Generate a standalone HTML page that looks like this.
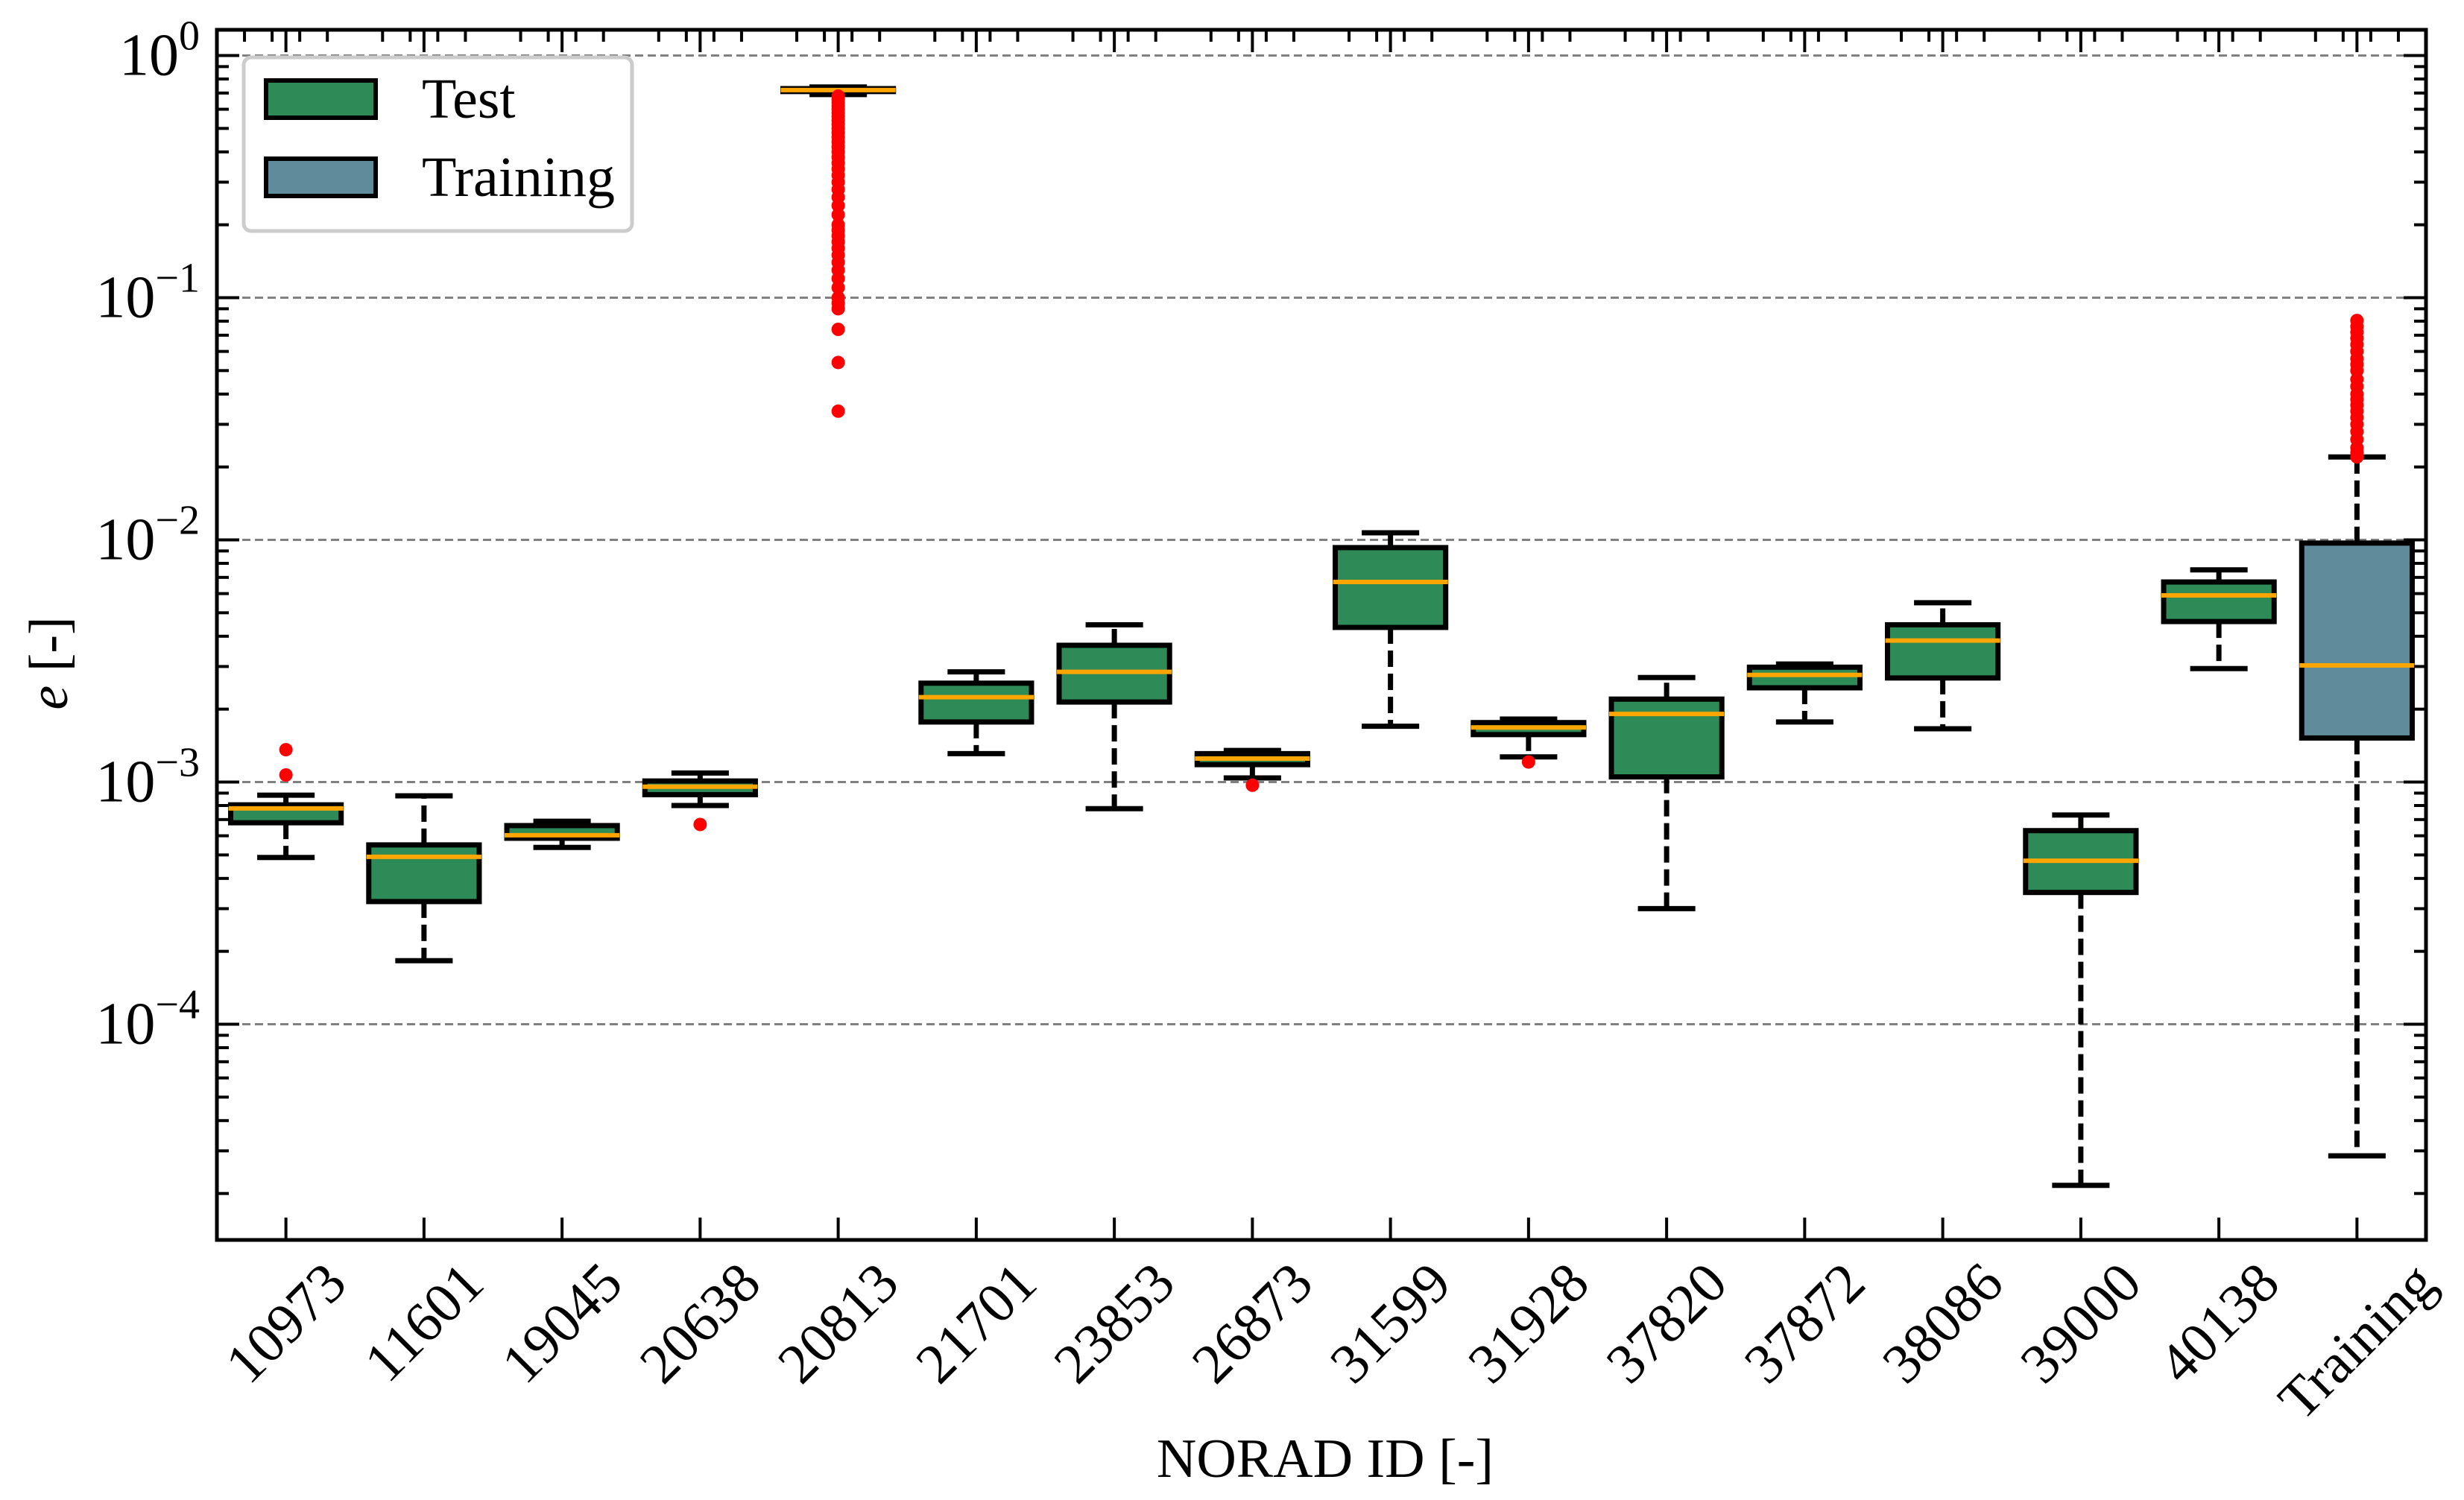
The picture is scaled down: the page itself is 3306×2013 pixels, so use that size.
<!DOCTYPE html>
<html><head><meta charset="utf-8"><style>
html,body{margin:0;padding:0;background:#fff;}
svg{display:block;font-family:"Liberation Serif",serif;}
</style></head><body>
<svg id="chart" width="3306" height="2013" viewBox="0 0 3306 2013" xmlns="http://www.w3.org/2000/svg">
<rect width="3306" height="2013" fill="#fff"/>
<g id="grid"></g>
<g id="boxes"></g>
<g id="axes"></g>
<g id="legend">
  <rect x="327" y="77" width="521" height="233" rx="10" fill="#fff" fill-opacity="0.8" stroke="#cccccc" stroke-width="5"/>
  <rect x="357" y="108" width="147" height="50" fill="#2e8b57" stroke="#000" stroke-width="6"/>
  <text x="566" y="158" font-size="76">Test</text>
  <rect x="357" y="213" width="147" height="50" fill="#5f8b9b" stroke="#000" stroke-width="6"/>
  <text x="566" y="263" font-size="76">Training</text>
</g>
<text x="1778" y="1982" font-size="74" text-anchor="middle">NORAD ID [-]</text>
<text transform="translate(90,890) rotate(-90)" font-size="74" text-anchor="middle"><tspan font-style="italic">e</tspan> [-]</text>
</svg>
<script>
const categories = ["10973","11601","19045","20638","20813","21701","23853","26873","31599","31928","37820","37872","38086","39000","40138","Training"];
const whiskerLow  = [4.88e-4,1.83e-4,5.37e-4,8.0e-4,0.69,1.31e-3,7.76e-4,1.04e-3,1.70e-3,1.27e-3,3.0e-4,1.77e-3,1.66e-3,2.16e-5,2.94e-3,2.86e-5];
const q1Values    = [6.79e-4,3.21e-4,5.86e-4,8.87e-4,0.71,1.77e-3,2.14e-3,1.18e-3,4.35e-3,1.57e-3,1.05e-3,2.45e-3,2.69e-3,3.5e-4,4.60e-3,1.52e-3];
const medianValues= [7.78e-4,4.91e-4,6.03e-4,9.57e-4,0.72,2.24e-3,2.85e-3,1.25e-3,6.70e-3,1.68e-3,1.91e-3,2.77e-3,3.84e-3,4.73e-4,5.90e-3,3.03e-3];
const q3Values    = [8.05e-4,5.50e-4,6.61e-4,1.01e-3,0.73,2.56e-3,3.67e-3,1.31e-3,9.29e-3,1.76e-3,2.20e-3,2.98e-3,4.46e-3,6.3e-4,6.70e-3,9.7e-3];
const whiskerHigh = [8.83e-4,8.77e-4,6.89e-4,1.09e-3,0.741,2.85e-3,4.46e-3,1.35e-3,1.07e-2,1.82e-3,2.70e-3,3.07e-3,5.5e-3,7.31e-4,7.52e-3,2.20e-2];
const fliers = [
 [1.36e-3,1.07e-3],[],[],[6.68e-4],
 [0.68,0.66,0.64,0.62,0.6,0.58,0.56,0.54,0.52,0.5,0.48,0.46,0.44,0.42,0.40,0.38,0.36,0.34,0.32,0.30,0.28,0.26,0.24,0.22,0.20,0.19,0.18,0.17,0.16,0.15,0.14,0.13,0.12,0.11,0.10,0.095,0.09,0.074,0.054,0.034],
 [],[],[9.7e-4],[],[1.21e-3],[],[],[],[],[],
 [0.022,0.023,0.024,0.026,0.028,0.03,0.032,0.034,0.036,0.038,0.04,0.043,0.046,0.05,0.053,0.056,0.06,0.064,0.068,0.072,0.076,0.0805]
];
const yTickExps = [0,-1,-2,-3,-4];

const NS="http://www.w3.org/2000/svg";
const L=291,R=3255,T=40,B=1664;
const xs=i=>L+(i+1-0.5)*(R-L)/16;
const ys=v=>74.5-Math.log10(v)*325;
function mk(tag,attrs,parent){const e=document.createElementNS(NS,tag);for(const k in attrs)e.setAttribute(k,attrs[k]);parent.appendChild(e);return e;}
const grid=document.getElementById('grid'),boxes=document.getElementById('boxes'),axes=document.getElementById('axes');

yTickExps.forEach(p=>{
  const y=ys(Math.pow(10,p));
  const g=mk('line',{x1:L,x2:R,y1:y,y2:y,stroke:'#808080','stroke-width':3,'stroke-dasharray':'11 6'},grid);
  
  
});

const bw=(R-L)/16*0.8, cw=bw*0.52;
categories.forEach((c,i)=>{
  const x=xs(i);
  const g=mk('g',{},boxes);
  
  
  const dash={stroke:'#000','stroke-width':7,'stroke-dasharray':'22 9'};
  mk('line',Object.assign({x1:x,x2:x,y1:ys(q3Values[i]),y2:ys(whiskerHigh[i])},dash),g);
  mk('line',Object.assign({x1:x,x2:x,y1:ys(q1Values[i]),y2:ys(whiskerLow[i])},dash),g);
  mk('line',{x1:x-cw/2,x2:x+cw/2,y1:ys(whiskerHigh[i]),y2:ys(whiskerHigh[i]),stroke:'#000','stroke-width':7},g);
  mk('line',{x1:x-cw/2,x2:x+cw/2,y1:ys(whiskerLow[i]),y2:ys(whiskerLow[i]),stroke:'#000','stroke-width':7},g);
  const yt=ys(q3Values[i]),yb=ys(q1Values[i]);
  mk('rect',{x:x-bw/2,y:yt,width:bw,height:yb-yt,fill:i===15?'#5f8b9b':'#2e8b57',stroke:'#000','stroke-width':7},g);
  mk('line',{x1:x-bw/2-3,x2:x+bw/2+3,y1:ys(medianValues[i]),y2:ys(medianValues[i]),stroke:'#ffa500','stroke-width':6},g);
  fliers[i].forEach(v=>{
    const d=mk('circle',{cx:x,cy:ys(v),r:9,fill:'#ff0000'},g);
    
    
  });
});

const fr=mk('rect',{x:L,y:T,width:R-L,height:B-T,fill:'none',stroke:'#000','stroke-width':5},axes);


for(let p=1;p>=-5;p--){
  for(let m=1;m<10;m++){
    const v=m*Math.pow(10,p);const y=ys(v);
    if(y<T||y>B)continue;
    const len=m===1?30:16;
    mk('line',{x1:L,x2:L+len,y1:y,y2:y,stroke:'#000','stroke-width':4},axes);
    mk('line',{x1:R,x2:R-len,y1:y,y2:y,stroke:'#000','stroke-width':4},axes);
  }
}
yTickExps.forEach(p=>{
  const y=ys(Math.pow(10,p));
  const t=mk('text',{x:268,y:y+26,'font-size':80,'text-anchor':'end'},axes);
  
  
  t.textContent='10';
  const s=mk('tspan',{dy:-34,'font-size':56},t);
  s.textContent=p===0?'0':'\u2212'+(-p);
});
categories.forEach((c,i)=>{
  const x=xs(i);
  mk('line',{x1:x,x2:x,y1:B,y2:B-30,stroke:'#000','stroke-width':4},axes);
  mk('line',{x1:x,x2:x,y1:T,y2:T+30,stroke:'#000','stroke-width':4},axes);
  const t=mk('text',{x:0,y:0,'font-size':76,'text-anchor':'middle','dominant-baseline':'central'},axes);
  
  
  t.textContent=c;
  const w=t.getComputedTextLength?t.getComputedTextLength():c.length*38;
  const cy=1690+(w+52)*0.3536;
  t.setAttribute('transform','translate('+x+','+cy+') rotate(-45)');
});
for(let k=0;k<=80;k++){
  const x=L+k*(R-L)/80;
  if(k%5===0)continue;
  mk('line',{x1:x,x2:x,y1:T,y2:T+16,stroke:'#000','stroke-width':4},axes);
}
</script>
</body></html>
